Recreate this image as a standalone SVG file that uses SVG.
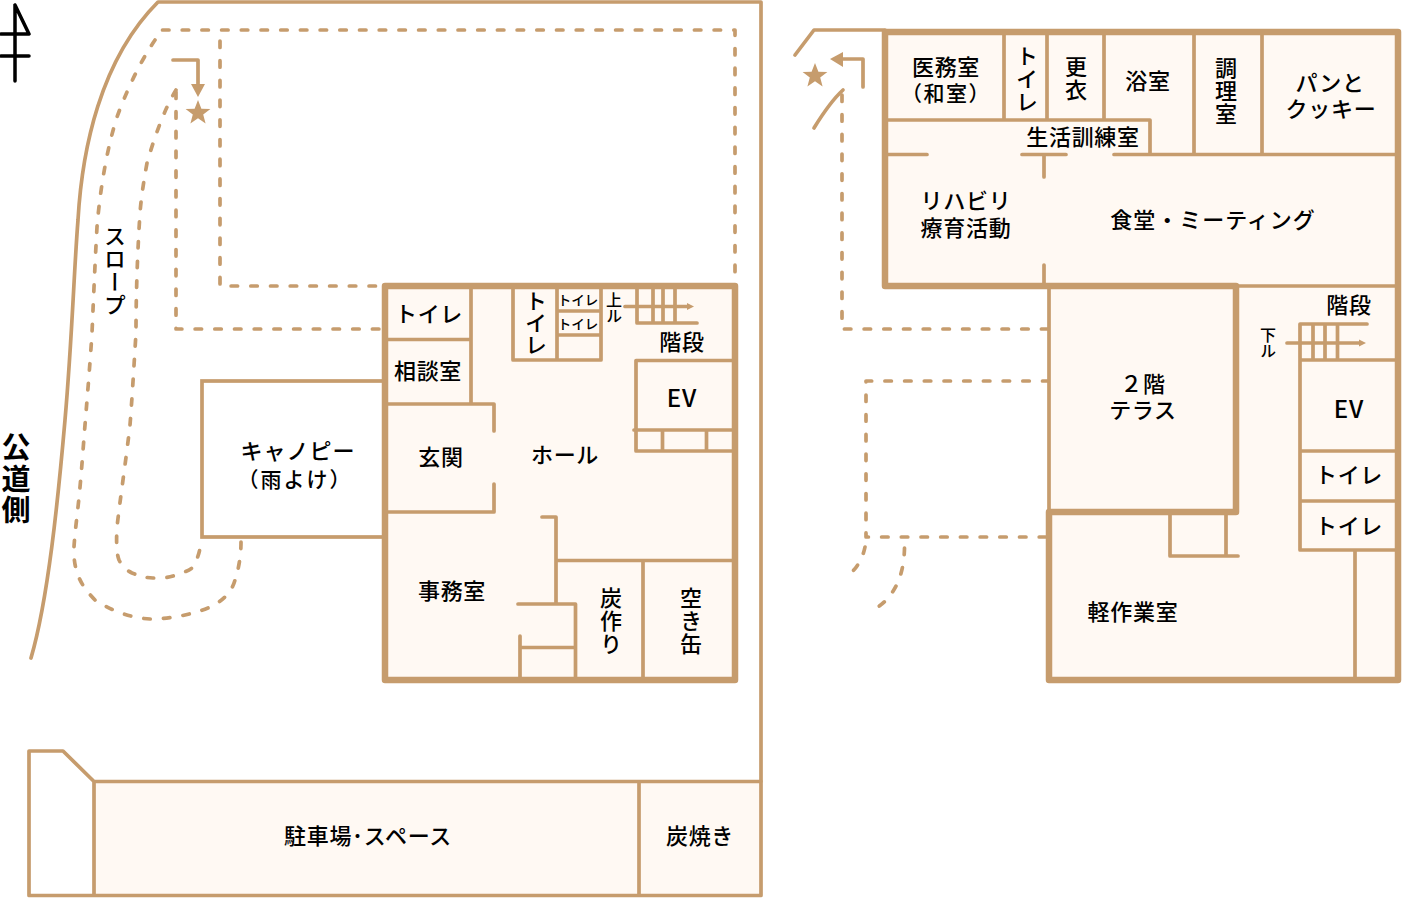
<svg xmlns="http://www.w3.org/2000/svg" width="1402" height="898" viewBox="0 0 1402 898">
<style>
.l{fill:none;stroke:#c69c6d;stroke-width:3.7;stroke-linecap:round;stroke-linejoin:round}
.w{fill:none;stroke:#c69c6d;stroke-width:6.5;stroke-linecap:round;stroke-linejoin:round}
.d{fill:none;stroke:#c69c6d;stroke-width:3.7;stroke-dasharray:6.5 13.2;stroke-linecap:round;stroke-linejoin:round}
.f{fill:#fff9f3;stroke:none}
.c{fill:#c69c6d;stroke:none}
.n{fill:none;stroke:#000;stroke-width:3.5;stroke-linecap:round;stroke-linejoin:round}
text{font-family:"Noto Sans CJK JP","Noto Sans",sans-serif;font-size:22px;font-weight:500;letter-spacing:.7px;text-anchor:middle;fill:#000}
.v{writing-mode:vertical-rl;letter-spacing:1px}
.s{font-size:13.5px;letter-spacing:0}
.m{font-size:16px;letter-spacing:0}
.e{font-size:24px;letter-spacing:1px}
</style>
<defs>
<polygon id="star" points="0,-13 3.4,-4.200 12.400,-4 5.200,1.600 7.600,10.500 0,5.200 -7.600,10.500 -5.200,1.600 -12.400,-4 -3.400,-4.200"/>
</defs>
<g id="north">
<path class="n" d="M15,5V81M15,5L29,34H1M1,56H29"/>
</g>
<g id="site">
<path class="l" d="M31,658C48,600 58,500 65,420C72,340 74,270 78,220C82,150 100,60 158,2H761V781"/>
<path class="f" d="M94,781.500H761V895.500H94Z"/>
<path class="l" d="M761,781.500V895.500H29V751H63L94,781.500H761M94,781.500V895.500M639,781.500V895.500"/>
<text x="368" y="844">駐車場･スペース</text>
<text x="700" y="844">炭焼き</text>
<text x="16" y="480" class="v" style="font-size:29px;font-weight:700;letter-spacing:2.500px">公道側</text>
<text x="115" y="271" class="v">スロープ</text>
</g>
<g id="connectors">
<path class="d" d="M162.500,30H735V283M220,41V286H382M176,92V329H382"/>
<path class="d" d="M155,40C138,65 125,95 117,117C107,148 100,190 97,227C95,262 93,310 92,333C90,365 87,400 85,425C83,450 82,465 80,487C78,510 75,530 74,547C73,570 80,585 95,600C110,610 130,618 150,619C170,619 190,615 208,608C222,602 232,592 235,580C239,568 241,555 241,542"/>
<path class="d" d="M176,90C165,108 155,135 147,163C143,185 141,200 140,213C137,260 136,300 136,333C134,365 132,400 130,425C126,460 120,500 117,527C116,545 117,555 119,560C123,568 128,571 132,573C140,576 146,578 153,578C160,578 167,578 173,576C182,573 188,571 192,568C196,562 199,555 200,548"/>
<path class="l" d="M173,60H198V85"/>
<polygon class="c" points="191,84 205,84 198,97"/>
<use href="#star" x="198" y="113" class="c"/>
<path class="d" d="M842,95V329H1049M1049,381H866V537H1047M865,547C863,557 858,566 852,572M904.500,548C904,575 895,595 878,607"/>
<path class="l" d="M863,87V59H843M795,55L814,30H885M843,90C832,100 822,115 814,128"/>
<polygon class="c" points="830,59 843,52 843,67"/>
<use href="#star" x="815" y="76" class="c"/>
</g>
<g id="canopy">
<rect x="202" y="381" width="183" height="156" fill="#fff" stroke="#c69c6d" stroke-width="3.700"/>
<text style="letter-spacing:1px"><tspan x="298" y="459">キャノピー</tspan><tspan x="295" y="487" style="font-size:21px;letter-spacing:2px">（雨よけ）</tspan></text>
</g>
<g id="building-1f">
<rect class="f" x="385" y="286" width="350" height="394"/>
<path class="l" d="M471,286V404M385,339.500H471M385,404H494V431M494,484V512H385"/>
<path class="l" d="M513,286V360H601V286M557,286V360M557,311H601M557,335H601"/>
<path class="l" d="M637,286V323H697M653,286V323M663,286V323M675,286V323M625,306.500H688"/>
<polygon class="c" points="687,303 694,306.500 687,310"/>
<path class="l" d="M735,360.500H636V451H735M634,430H735M662.500,430V451M706.500,430V451"/>
<path class="l" d="M542,517H556V604M556,560.500H735M643,560.500V680M518,604H575.500V680M520,636V680M520,647.500H575.500"/>
<path class="w" d="M385,286H735V680H385Z"/>
<text x="429" y="322">トイレ</text>
<text x="428" y="379">相談室</text>
<text x="441" y="465">玄関</text>
<text x="565" y="463">ホール</text>
<text x="452" y="599">事務室</text>
<text x="536" y="323" class="v" style="letter-spacing:0">トイレ</text>
<text x="578" y="305" class="s">トイレ</text>
<text x="578" y="329" class="s">トイレ</text>
<text x="614" y="308" class="v m">上ル</text>
<text x="682" y="350">階段</text>
<text x="682" y="407" class="e">EV</text>
<text x="611" y="621" class="v">炭作り</text>
<text x="691" y="621" class="v">空き缶</text>
</g>
<g id="building-2f">
<path class="f" d="M885,32H1398V680H1049V286H885Z"/>
<path class="l" d="M1004,32V120M1047,32V120M1104,32V120M1194,32V154.500M1262,32V154.500M885,120H1150V154.500M885,154.500H927M1022,154.500H1066M1114,154.500H1398M1044,154.500V177M1044,265V286"/>
<path class="l" d="M1049,286V512M1236,286H1398"/>
<path class="l" d="M1170,512V556H1238M1226,512V556"/>
<path class="l" d="M1367,324H1300V550H1398M1300,360H1398M1300,451H1398M1300,501H1398M1313,324V360M1325,324V360M1337.500,324V360M1287,343H1360M1355,550V680"/>
<polygon class="c" points="1359,339.500 1366,343 1359,346.500"/>
<path class="w" d="M885,32H1398V680H1049V512H1236V286H885Z"/>
<text><tspan x="946" y="75">医務室</tspan><tspan x="946" y="101" style="font-size:21px;letter-spacing:1.500px">（和室）</tspan></text>
<text x="1027" y="79" class="v">トイレ</text>
<text x="1076" y="79" class="v">更衣</text>
<text x="1148" y="89">浴室</text>
<text x="1226" y="91" class="v">調理室</text>
<text><tspan x="1330" y="91">パンと</tspan><tspan x="1331" y="117">クッキー</tspan></text>
<text x="1083" y="145">生活訓練室</text>
<text><tspan x="966" y="209">リハビリ</tspan><tspan x="966" y="236">療育活動</tspan></text>
<text x="1213" y="228" style="letter-spacing:1px">食堂・ミーティング</text>
<text><tspan x="1143" y="392">２階</tspan><tspan x="1143" y="418">テラス</tspan></text>
<text x="1349" y="313">階段</text>
<text x="1268" y="343" class="v m">下ル</text>
<text x="1349" y="418" class="e">EV</text>
<text x="1349" y="483">トイレ</text>
<text x="1349" y="534">トイレ</text>
<text x="1133" y="620">軽作業室</text>
</g>
</svg>
